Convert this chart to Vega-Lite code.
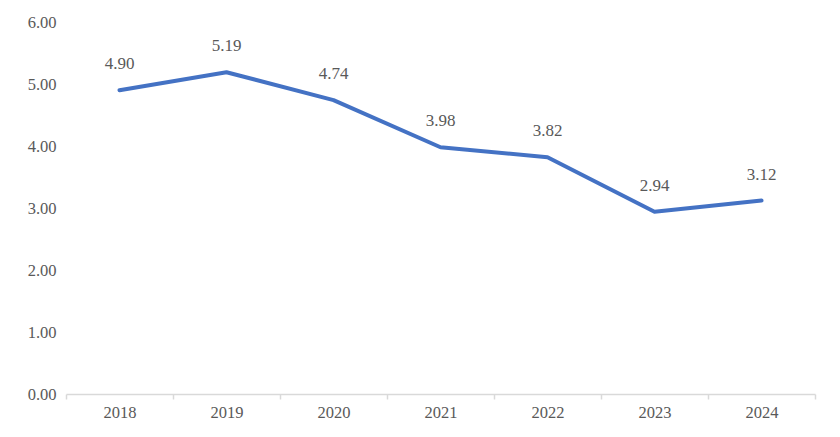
{
  "$schema": "https://vega.github.io/schema/vega-lite/v6.json",
  "width": 749,
  "height": 372,
  "autosize": {"type": "none"},
  "padding": {"left": 66, "top": 22, "right": 25, "bottom": 43},
  "background": "white",
  "config": {"view": {"stroke": null}, "font": "Liberation Serif"},
  "data": {"values": [
    {"year": "2018", "value": 4.90},
    {"year": "2019", "value": 5.19},
    {"year": "2020", "value": 4.74},
    {"year": "2021", "value": 3.98},
    {"year": "2022", "value": 3.82},
    {"year": "2023", "value": 2.94},
    {"year": "2024", "value": 3.12}
  ]},
  "encoding": {
    "x": {"field": "year", "type": "ordinal", "scale": {"paddingInner": 0, "paddingOuter": 0}, "axis": {
      "title": null, "labelAngle": 0, "labelFontSize": 16.5, "labelColor": "#595959", "labelFont": "Liberation Serif",
      "domainColor": "#d9d9d9", "domainWidth": 1.5, "tickColor": "#d9d9d9", "tickWidth": 1.5, "tickSize": 5, "tickBand": "extent", "labelPadding": 5
    }},
    "y": {"field": "value", "type": "quantitative", "scale": {"domain": [0, 6]}, "axis": {
      "title": null, "values": [0, 1, 2, 3, 4, 5, 6], "format": ".2f", "domain": false, "ticks": false, "grid": false,
      "labelFontSize": 16.5, "labelColor": "#595959", "labelFont": "Liberation Serif", "labelPadding": 10
    }}
  },
  "layer": [
    {"mark": {"type": "line", "color": "#4472C4", "strokeWidth": 4, "strokeCap": "round", "strokeJoin": "round"}},
    {"mark": {"type": "text", "dy": -26, "fontSize": 17, "color": "#595959", "font": "Liberation Serif"},
     "encoding": {"text": {"field": "value", "type": "quantitative", "format": ".2f"}}}
  ]
}
